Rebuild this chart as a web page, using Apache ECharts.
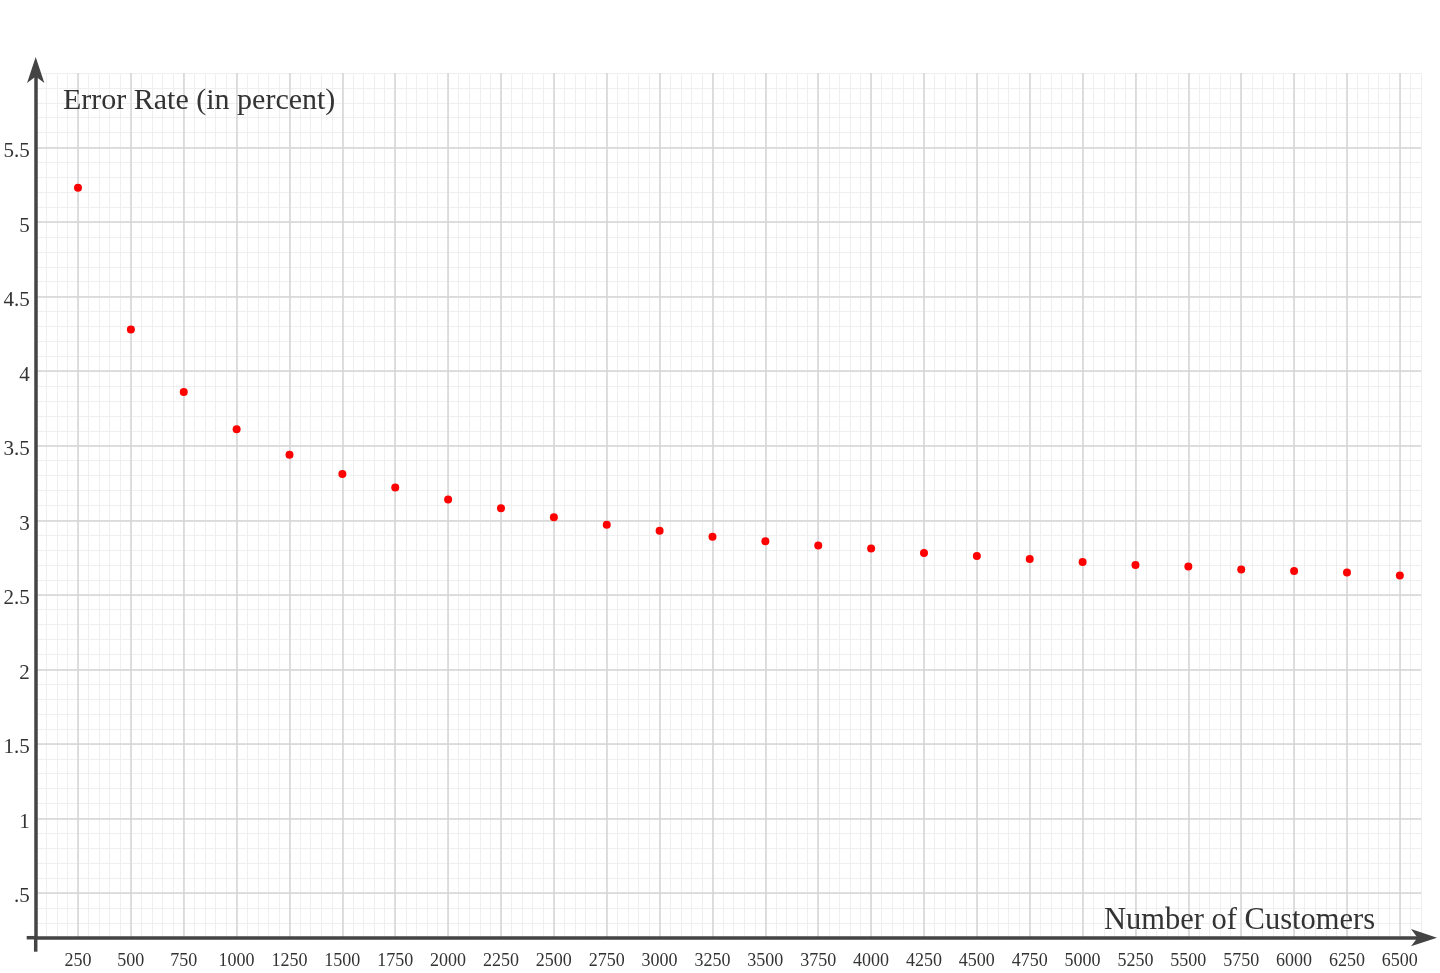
<!DOCTYPE html>
<html>
<head>
<meta charset="utf-8">
<script src="https://cdn.jsdelivr.net/npm/echarts@6/dist/echarts.min.js"></script>
<style>
  html, body { margin: 0; padding: 0; background: #fff; }
  #chart { width: 1440px; height: 973px; }
</style>
</head>
<body>
<div id="chart"></div>
<script>
// ---- data ----
var customers = [250, 500, 750, 1000, 1250, 1500, 1750, 2000, 2250, 2500, 2750, 3000, 3250,
                 3500, 3750, 4000, 4250, 4500, 4750, 5000, 5250, 5500, 5750, 6000, 6250, 6500];
var errorRate = [5.23, 4.28, 3.86, 3.61, 3.44, 3.31, 3.22, 3.14, 3.08, 3.02, 2.97, 2.93, 2.89,
                 2.86, 2.83, 2.81, 2.78, 2.76, 2.74, 2.72, 2.70, 2.69, 2.67, 2.66, 2.65, 2.63];
var xTickLabels = [250, 500, 750, 1000, 1250, 1500, 1750, 2000, 2250, 2500, 2750, 3000, 3250,
                   3500, 3750, 4000, 4250, 4500, 4750, 5000, 5250, 5500, 5750, 6000, 6250, 6500];
var yTickLabels = [0.5, 1, 1.5, 2, 2.5, 3, 3.5, 4, 4.5, 5, 5.5];
var xName = 'Number of Customers';
var yName = 'Error Rate (in percent)';

var X_MIN = 50, X_MAX = 6600, X_MINOR = 50;
var Y_MIN = 0.2, Y_MAX = 6.0, Y_MINOR = 0.1;

var FONT = '"Liberation Serif", "DejaVu Serif", serif';
var AXIS_COLOR = '#444';
var TEXT_COLOR = '#333';

var chart = echarts.init(document.getElementById('chart'), null, { renderer: 'canvas' });

var hidden = { show: false };
var axisLineStyle = {
  show: true, onZero: false,
  lineStyle: { color: AXIS_COLOR, width: 3.5 },
  symbol: ['none', 'arrow'], symbolSize: [13, 26], symbolOffset: [0, 16]
};

var option = {
  backgroundColor: '#ffffff',
  animation: false,
  grid: { left: 35.7, right: 19, top: 73, bottom: 35.3, containLabel: false, outerBoundsMode: 'none' },
  xAxis: [
    { // minor grid
      type: 'value', position: 'bottom', z: 0, min: X_MIN, max: X_MAX, interval: X_MINOR,
      axisLine: hidden, axisTick: hidden, axisLabel: hidden,
      splitLine: { show: true, lineStyle: { color: '#efefef', width: 1 } }
    },
    { // major grid
      type: 'value', position: 'bottom', z: 1, min: X_MIN, max: X_MAX,
      axisLine: hidden,
      axisTick: { show: false, customValues: xTickLabels },
      axisLabel: { show: false, customValues: xTickLabels },
      splitLine: { show: true, lineStyle: { color: '#d4d4d4', width: 1.5 } }
    },
    { // axis line + labels
      type: 'value', position: 'bottom', z: 2, min: X_MIN, max: X_MAX,
      axisLine: axisLineStyle,
      axisTick: { show: false, customValues: xTickLabels },
      axisLabel: {
        show: true, customValues: xTickLabels, margin: 15,
        fontFamily: FONT, fontSize: 18, color: TEXT_COLOR,
        formatter: function (v) { return String(v); }
      },
      splitLine: hidden
    }
  ],
  yAxis: [
    {
      type: 'value', position: 'left', z: 0, min: Y_MIN, max: Y_MAX, interval: Y_MINOR,
      axisLine: hidden, axisTick: hidden, axisLabel: hidden,
      splitLine: { show: true, lineStyle: { color: '#efefef', width: 1 } }
    },
    {
      type: 'value', position: 'left', z: 1, min: Y_MIN, max: Y_MAX,
      axisLine: hidden,
      axisTick: { show: false, customValues: yTickLabels },
      axisLabel: { show: false, customValues: yTickLabels },
      splitLine: { show: true, lineStyle: { color: '#d4d4d4', width: 1.5 } }
    },
    {
      type: 'value', position: 'left', z: 2, min: Y_MIN, max: Y_MAX,
      axisLine: axisLineStyle,
      axisTick: { show: false, customValues: yTickLabels },
      axisLabel: {
        show: true, customValues: yTickLabels, margin: 6,
        fontFamily: FONT, fontSize: 21, color: TEXT_COLOR,
        verticalAlign: 'top', lineHeight: 8,
        formatter: function (v) { return v === 0.5 ? '.5' : String(v); }
      },
      splitLine: hidden
    }
  ],
  series: [{
    type: 'scatter',
    xAxisIndex: 0, yAxisIndex: 0, z: 10,
    symbol: 'circle', symbolSize: 8,
    itemStyle: { color: '#ff0000', opacity: 1 },
    data: customers.map(function (c, i) { return [c, errorRate[i]]; })
  }]
};
chart.setOption(option);

// axis crossing stubs, positioned from the library's own scales
var o = chart.convertToPixel({ xAxisIndex: 2, yAxisIndex: 2 }, [X_MIN, Y_MIN]);
chart.setOption({
  graphic: [
    { type: 'line', z: 20, shape: { x1: o[0] - 9, y1: o[1], x2: o[0], y2: o[1] },
      style: { stroke: AXIS_COLOR, lineWidth: 3.5 } },
    { type: 'line', z: 20, shape: { x1: o[0], y1: o[1], x2: o[0], y2: o[1] + 14 },
      style: { stroke: AXIS_COLOR, lineWidth: 3.5 } },
    { type: 'text', z: 20, left: 63, top: 86,
      style: { text: yName, font: '30px ' + FONT, fill: TEXT_COLOR } },
    { type: 'text', z: 20, left: 1104, top: 905,
      style: { text: xName, font: '30.5px ' + FONT, fill: TEXT_COLOR } }
  ]
});
</script>
</body>
</html>
